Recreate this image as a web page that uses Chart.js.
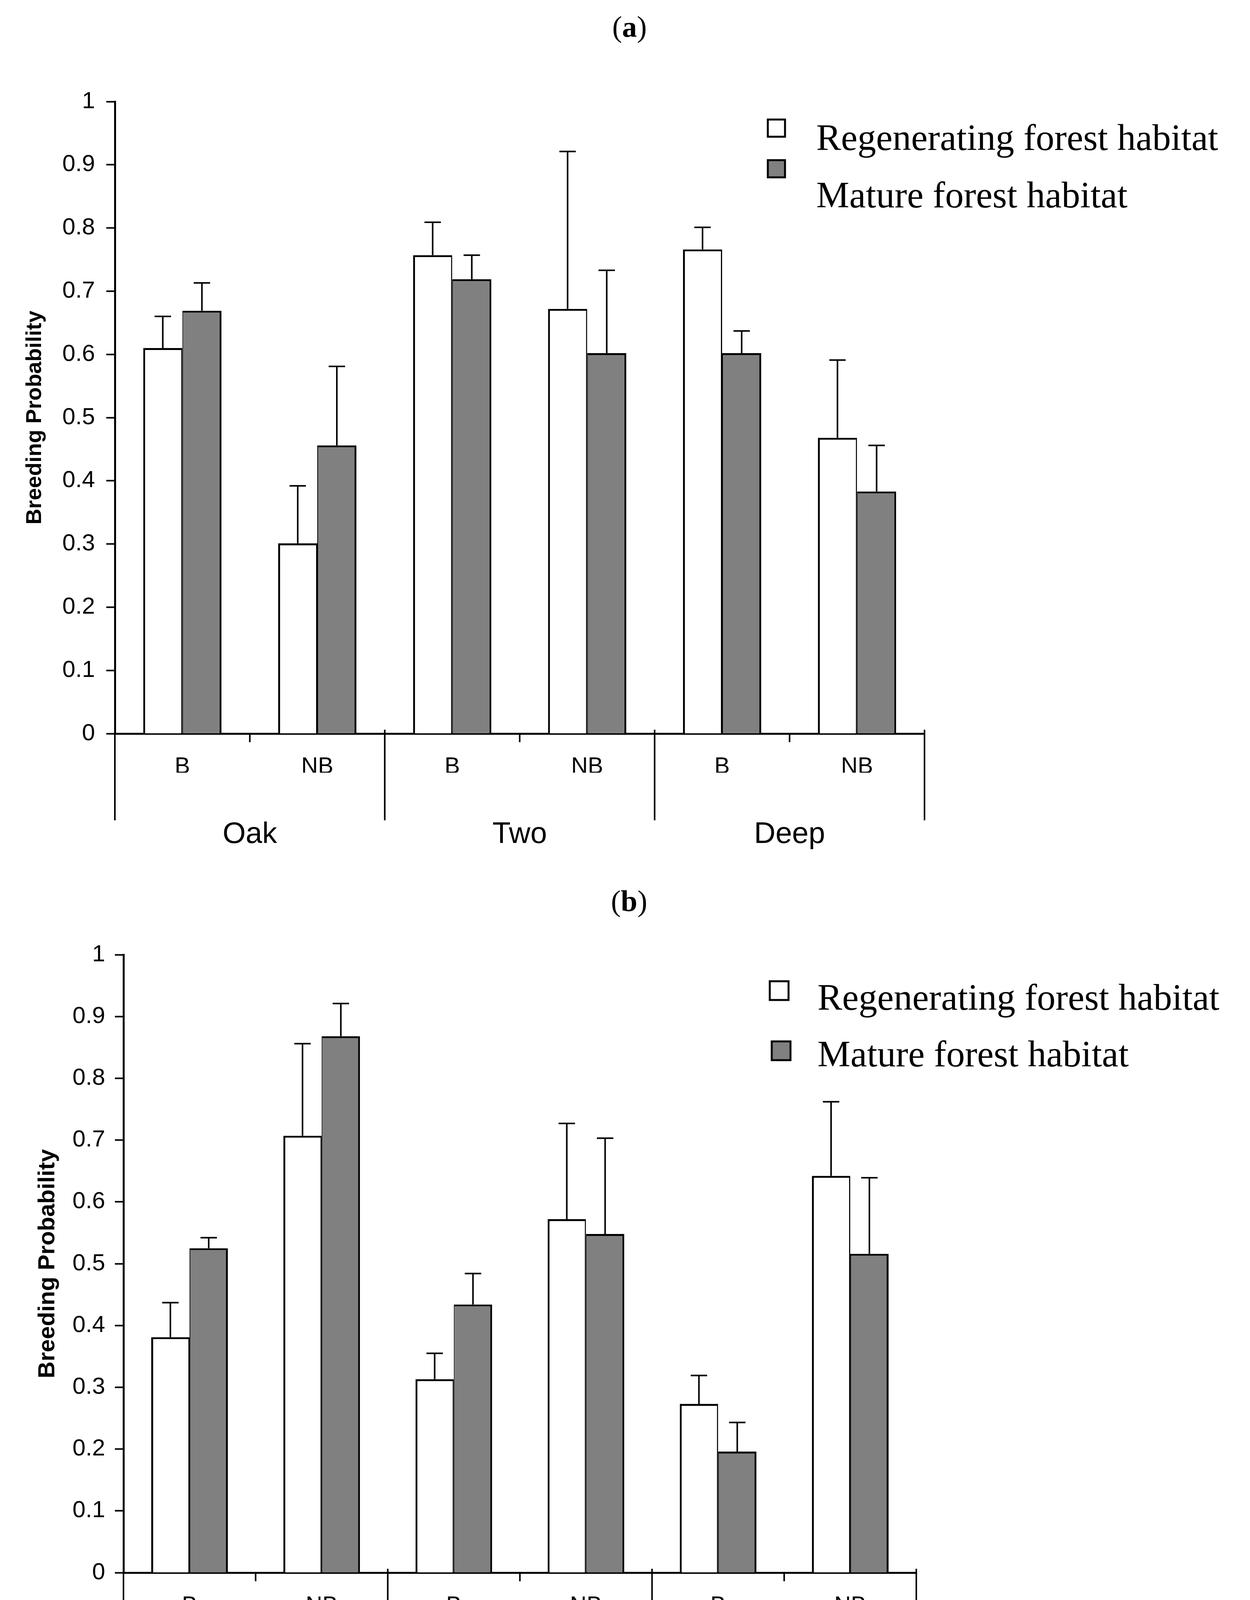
<!DOCTYPE html>
<html>
<head>
<meta charset="utf-8">
<title>Breeding probability by habitat</title>
<script src="https://cdn.jsdelivr.net/npm/chart.js@4.4.1/dist/chart.umd.min.js"></script>
<style>
    html, body { margin: 0; padding: 0; background: #fff; }
    #wrap { position: relative; width: 3199px; height: 4343px; overflow: hidden; background: #fff; }
    canvas { position: absolute; left: 0; }
    #chartA { top: 0; }
    #chartB { top: 2200px; }
</style>
</head>
<body>
<div id="wrap">
    <canvas id="chartA" width="3199" height="2200"></canvas>
    <canvas id="chartB" width="3199" height="2143"></canvas>
</div>
<script>
const subLabels = ['B', 'NB', 'B', 'NB', 'B', 'NB'];
const siteLabels = ['Oak', 'Two', 'Deep'];
const seriesNames = ['Regenerating forest habitat', 'Mature forest habitat'];
const yTickLabels = ['0', '0.1', '0.2', '0.3', '0.4', '0.5', '0.6', '0.7', '0.8', '0.9', '1'];

// panel (a): bar heights and the top end of each error bar
const regenA = [0.610, 0.301, 0.757, 0.672, 0.766, 0.468];
const regenTopA = [0.660, 0.392, 0.809, 0.921, 0.801, 0.591];
const matureA = [0.669, 0.456, 0.719, 0.602, 0.602, 0.383];
const matureTopA = [0.713, 0.581, 0.757, 0.733, 0.637, 0.456];

// panel (b)
const regenB = [0.381, 0.707, 0.313, 0.572, 0.273, 0.642];
const regenTopB = [0.437, 0.856, 0.355, 0.727, 0.319, 0.762];
const matureB = [0.525, 0.868, 0.434, 0.548, 0.196, 0.516];
const matureTopB = [0.542, 0.921, 0.484, 0.703, 0.243, 0.639];

const sans = '"Liberation Sans", Arial, sans-serif';
const serif = '"Liberation Serif", "Times New Roman", serif';
const fills = ['#ffffff', '#808080'];

const extras = {
    id: 'extras',
    afterDatasetsDraw(chart) {
        const ctx = chart.ctx;
        const y = chart.scales.y;
        ctx.save();
        ctx.strokeStyle = '#000';
        ctx.lineWidth = 4;
        // only the upper half of each error bar is shown
        chart.data.datasets.forEach((ds, i) => {
            chart.getDatasetMeta(i).data.forEach((bar, j) => {
                const top = y.getPixelForValue(ds.errTop[j]);
                ctx.beginPath();
                ctx.moveTo(bar.x, bar.y);
                ctx.lineTo(bar.x, top);
                ctx.moveTo(bar.x - 21, top);
                ctx.lineTo(bar.x + 21, top);
                ctx.stroke();
            });
        });
        ctx.restore();
    },
    afterDraw(chart, args, opts) {
        const ctx = chart.ctx;
        const x = chart.scales.x, y = chart.scales.y;
        const axisY = y.getPixelForValue(0);
        const step = (x.right - x.left) / subLabels.length;
        ctx.save();
        ctx.strokeStyle = '#000';
        ctx.fillStyle = '#000';
        ctx.lineWidth = 4;

        // category ticks, long lines between sites
        for (let i = 0; i <= subLabels.length; i++) {
            const px = x.left + i * step;
            ctx.beginPath();
            if (i % 2 === 0) {
                ctx.moveTo(px, axisY - 10);
                ctx.lineTo(px, axisY + opts.sepLength);
            } else {
                ctx.moveTo(px, axisY);
                ctx.lineTo(px, axisY + 22);
            }
            ctx.stroke();
        }

        ctx.font = `${opts.siteSize}px ${sans}`;
        ctx.textAlign = 'center';
        ctx.textBaseline = 'middle';
        siteLabels.forEach((s, k) => {
            ctx.fillText(s, x.left + (2 * k + 1) * step, axisY + opts.siteOffset);
        });

        // legend
        const L = opts.legend;
        ctx.textAlign = 'left';
        ctx.textBaseline = 'alphabetic';
        chart.data.datasets.forEach((ds, i) => {
            const b = L.boxes[i];
            ctx.fillStyle = ds.backgroundColor;
            ctx.fillRect(b[0], b[1], L.box, L.box);
            ctx.lineWidth = 5;
            ctx.strokeRect(b[0], b[1], L.box, L.box);
            ctx.fillStyle = '#000';
            ctx.font = `${L.size}px ${serif}`;
            ctx.fillText(ds.label, L.textX, L.baselines[i]);
        });

        // panel tag "(a)" with a bold letter
        const parts = [['(', ''], [opts.tag, 'bold '], [')', '']];
        let total = 0;
        parts.forEach(p => {
            ctx.font = `${p[1]}${opts.tagSize}px ${serif}`;
            total += ctx.measureText(p[0]).width;
        });
        let tx = opts.tagX - total / 2;
        ctx.textBaseline = 'middle';
        parts.forEach(p => {
            ctx.font = `${p[1]}${opts.tagSize}px ${serif}`;
            ctx.fillText(p[0], tx, opts.tagY);
            tx += ctx.measureText(p[0]).width;
        });
        ctx.restore();
    }
};

function makePanel(id, regen, regenTop, mature, matureTop, look) {
    return new Chart(document.getElementById(id), {
        type: 'bar',
        data: {
            labels: subLabels,
            datasets: [
                {
                    label: seriesNames[0], data: regen, errTop: regenTop, backgroundColor: fills[0],
                    borderWidth: { top: 5, left: 5, right: 3, bottom: 0 }
                },
                {
                    label: seriesNames[1], data: mature, errTop: matureTop, backgroundColor: fills[1],
                    borderWidth: { top: 5, left: 2, right: 5, bottom: 0 }
                }
            ]
        },
        options: {
            responsive: false,
            devicePixelRatio: 1,
            animation: false,
            layout: { padding: look.padding },
            datasets: {
                bar: {
                    borderColor: '#000',
                    borderSkipped: false,
                    categoryPercentage: 0.58,
                    barPercentage: 1.0
                }
            },
            scales: {
                x: {
                    grid: { display: true, drawOnChartArea: false, drawTicks: false },
                    border: { color: '#000', width: 5 },
                    ticks: { color: '#000', font: { family: sans, size: 59 }, padding: 50 },
                    afterFit: s => { s.height = 100; }
                },
                y: {
                    min: 0,
                    max: 1,
                    ticks: {
                        stepSize: 0.1,
                        color: '#000',
                        font: { family: sans, size: 60 },
                        padding: look.tickPad,
                        callback: (v, i) => yTickLabels[i]
                    },
                    grid: { drawOnChartArea: false, tickLength: 22, tickWidth: 4, tickColor: '#000' },
                    border: { color: '#000', width: 5 },
                    title: {
                        display: true,
                        text: 'Breeding Probability',
                        color: '#000',
                        font: { family: sans, size: look.titleSize, weight: 'bold' },
                        padding: { top: look.titlePad, bottom: 0 }
                    },
                    afterFit: s => { s.width = look.yWidth; }
                }
            },
            plugins: {
                legend: { display: false },
                tooltip: { enabled: false },
                extras: look.extras
            }
        },
        plugins: [extras]
    });
}

makePanel('chartA', regenA, regenTopA, matureA, matureTopA, {
    padding: { left: 0, right: 833, top: 260, bottom: 222 },
    yWidth: 294,
    tickPad: 29,
    titleSize: 56,
    titlePad: 56,
    extras: {
        tag: 'a', tagSize: 76, tagX: 1611, tagY: 74,
        sepLength: 222, siteSize: 76, siteOffset: 259,
        legend: { boxes: [[1965, 306], [1965, 410]], box: 44, textX: 2089, baselines: [384, 531], size: 95 }
    }
});

makePanel('chartB', regenB, regenTopB, matureB, matureTopB, {
    padding: { left: 0, right: 854, top: 244, bottom: 217 },
    yWidth: 316,
    tickPad: 25,
    titleSize: 60,
    titlePad: 86,
    extras: {
        tag: 'b', tagSize: 76, tagX: 1610, tagY: 112,
        sepLength: 233, siteSize: 76, siteOffset: 252,
        legend: { boxes: [[1970, 312], [1975, 466]], box: 48, textX: 2092, baselines: [385, 530], size: 95 }
    }
});
</script>
</body>
</html>
